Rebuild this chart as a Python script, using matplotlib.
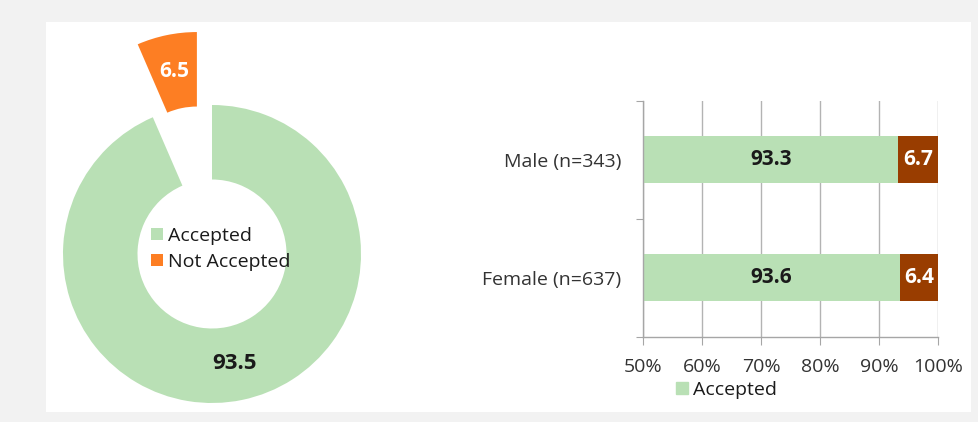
import matplotlib
matplotlib.use('Agg')
import matplotlib.pyplot as plt
from matplotlib.patches import Rectangle, Patch

# donut data
status = ['Accepted', 'Not Accepted']
overall = [93.5, 6.5]

# stacked bar data (bottom to top)
groups = ['Female (n=637)', 'Male (n=343)']
accepted = [93.6, 93.3]
not_accepted = [6.4, 6.7]
xticks = [50, 60, 70, 80, 90, 100]

green = '#b9e0b5'
orange = '#fd7e23'
brown = '#993d00'
axis_gray = '#a6a6a6'
text_dark = '#1a1a1a'
text_gray = '#333333'

dpi = 100.
W, H = 979, 422
plt.rcParams.update({'font.family': ['Open Sans', 'DejaVu Sans'],
                     'figure.dpi': dpi,
                     'savefig.dpi': dpi,
                     'figure.figsize': [W/dpi, H/dpi]})

fig = plt.figure(facecolor='#f2f2f2')
fig.add_artist(Rectangle((46/W, 1 - 412/H), (971 - 46)/W, (412 - 22)/H,
                         transform=fig.transFigure, facecolor='white',
                         edgecolor='none', zorder=0))

# ---- donut ----
s = 149.  # px per data unit
cx, cy = 212., H - 254.
xl, yl = (-1.4, 1.4), (-1.1, 1.6)
ax1 = fig.add_axes([(cx + xl[0]*s)/W, (cy + yl[0]*s)/H,
                    (xl[1] - xl[0])*s/W, (yl[1] - yl[0])*s/H])
wedges, _, autotexts = ax1.pie(overall, colors=[green, orange],
                               explode=[0, 0.5], startangle=90,
                               counterclock=False, radius=1,
                               wedgeprops=dict(width=0.5, edgecolor='none'),
                               autopct='%.1f', pctdistance=0.75)
ax1.set_xlim(*xl)
ax1.set_ylim(*yl)
ax1.set_aspect('equal', adjustable='box')
autotexts[0].set(color=text_dark, fontsize=16, fontweight='bold')
autotexts[1].set(color='white', fontsize=15, fontweight='bold')

fig.legend(wedges, status, loc='upper left',
           bbox_to_anchor=(151/W, 1 - 227/H), frameon=False,
           fontsize=14, borderpad=0, borderaxespad=0,
           handlelength=0.6, handleheight=0.6, handletextpad=0.3,
           labelspacing=0.42, labelcolor=text_dark)

# ---- stacked bars ----
left, right, top, bottom = 643.3, 937.7, 100.7, 336.7
ax2 = fig.add_axes([left/W, (H - bottom)/H, (right - left)/W, (bottom - top)/H])
ypos = range(len(groups))
ax2.barh(ypos, accepted, height=0.4, color=green, zorder=2)
ax2.barh(ypos, not_accepted, left=accepted, height=0.4, color=brown, zorder=2)
ax2.set_xlim(50, 100)
ax2.set_ylim(-0.5, len(groups) - 0.5)

for y, a, n in zip(ypos, accepted, not_accepted):
    ax2.text((50 + a)/2, y, f'{a:.1f}', ha='center', va='center',
             fontsize=15, fontweight='bold', color=text_dark, zorder=3)
    ax2.text(a + n/2, y, f'{n:.1f}', ha='center', va='center',
             fontsize=15, fontweight='bold', color='white', zorder=3)

ax2.set_xticks(xticks, labels=[f'{v}%' for v in xticks])
ax2.set_yticks([-0.5, 0.5, 1.5], labels=[])
ax2.set_yticks(list(ypos), labels=groups, minor=True)
ax2.tick_params(axis='y', which='minor', length=0, pad=15.8,
                labelsize=14, labelcolor=text_gray)
ax2.tick_params(axis='y', which='major', length=5, color=axis_gray)
ax2.tick_params(axis='x', length=5.5, color=axis_gray, pad=10,
                labelsize=14, labelcolor=text_gray)
for side in ['top', 'right']:
    ax2.spines[side].set_visible(False)
for side in ['left', 'bottom']:
    ax2.spines[side].set_color(axis_gray)
    ax2.spines[side].set_linewidth(1)
ax2.grid(axis='x', color='#b3b3b3', linewidth=1, zorder=1)
ax2.set_axisbelow(True)

fig.legend(handles=[Patch(color=green)], labels=['Accepted'],
           loc='center left', bbox_to_anchor=(676/W, 1 - 390/H),
           frameon=False, fontsize=14, borderpad=0, borderaxespad=0,
           handlelength=0.6, handleheight=0.6, handletextpad=0.3,
           labelcolor=text_dark)

fig.savefig('out.png', dpi=dpi, facecolor=fig.get_facecolor())
